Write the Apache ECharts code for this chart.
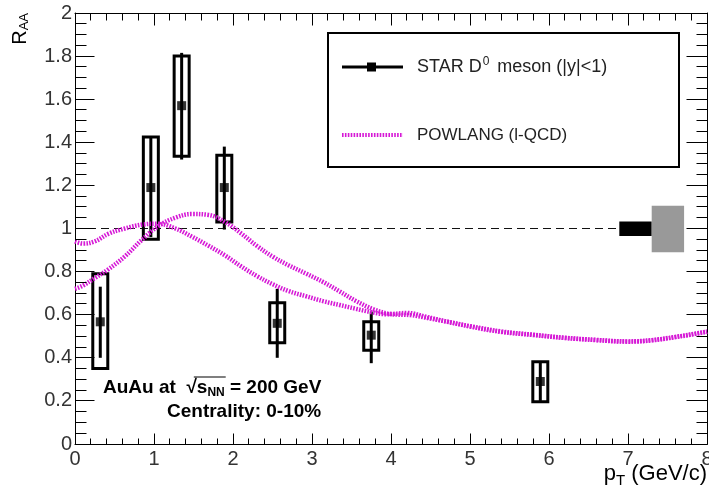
<!DOCTYPE html>
<html>
<head>
<meta charset="utf-8">
<script src="https://cdn.jsdelivr.net/npm/echarts@6/dist/echarts.min.js"></script>
<style>
  html, body { margin: 0; padding: 0; background: #fff; }
  #chart { width: 709px; height: 494px; }
</style>
</head>
<body>
<div id="chart"></div>
<script>
// STAR D0 nuclear modification factor, 0-10% central Au+Au at 200 GeV
const ptValues  = [0.32, 0.96, 1.35, 1.89, 2.56, 3.75, 5.89];
const raaValues = [0.567, 1.19, 1.57, 1.19, 0.56, 0.505, 0.29];
const statLow   = [0.40, 0.96, 1.32, 0.995, 0.40, 0.375, 0.20];
const statHigh  = [0.73, 1.42, 1.815, 1.38, 0.72, 0.615, 0.38];
const sysLow    = [0.35, 0.95, 1.335, 1.03, 0.47, 0.435, 0.196];
const sysHigh   = [0.79, 1.425, 1.80, 1.34, 0.655, 0.567, 0.382];

// POWLANG (l-QCD) transport predictions
const powlangAx = [0.0, 0.1, 0.25, 0.42, 0.63, 0.85, 1.05, 1.27, 1.48, 1.69, 1.9, 2.1, 2.3, 2.5, 2.7, 2.93, 3.15, 3.35, 3.55, 3.75, 3.95, 4.2, 4.45, 4.7, 5.0, 5.4, 5.8, 6.2, 6.6, 7.0, 7.3, 7.6, 7.85, 8.0];
const powlangAy = [0.94, 0.93, 0.94, 0.975, 1.0, 1.018, 1.022, 1.0, 0.962, 0.92, 0.875, 0.825, 0.78, 0.742, 0.71, 0.685, 0.662, 0.645, 0.628, 0.612, 0.602, 0.608, 0.59, 0.568, 0.547, 0.522, 0.507, 0.493, 0.483, 0.476, 0.482, 0.497, 0.512, 0.522];
const powlangBx = [0.0, 0.1, 0.25, 0.42, 0.63, 0.84, 1.05, 1.27, 1.48, 1.69, 1.9, 2.1, 2.3, 2.5, 2.7, 2.93, 3.15, 3.35, 3.55, 3.78, 4.0, 4.25, 4.5, 4.75, 5.0, 5.4, 5.8, 6.2, 6.6, 7.0, 7.3, 7.6, 7.85, 8.0];
const powlangBy = [0.72, 0.735, 0.77, 0.81, 0.87, 0.945, 1.01, 1.05, 1.067, 1.063, 1.03, 0.978, 0.92, 0.87, 0.83, 0.79, 0.75, 0.708, 0.665, 0.625, 0.603, 0.598, 0.582, 0.565, 0.545, 0.52, 0.506, 0.492, 0.482, 0.475, 0.481, 0.496, 0.511, 0.521];

// Normalisation uncertainties drawn around unity
const normX0   = [6.89, 7.30];
const normX1   = [7.30, 7.71];
const normLow  = [0.965, 0.89];
const normHigh = [1.032, 1.106];

// Axis ranges, tick marks and subdivisions
const xRange = [0, 8];
const yRange = [0, 2];
const xMajorTicks = [0, 1, 2, 3, 4, 5, 6, 7, 8];
const yMajorTicks = [0, 0.2, 0.4, 0.6, 0.8, 1.0, 1.2, 1.4, 1.6, 1.8, 2.0];
const xSubdivisions = 5;
const ySubdivisions = 4;

const FONT = "'Liberation Sans', Arial, Helvetica, sans-serif";
const MAGENTA = '#d61ad6';
const normColors = ['#000000', '#999999'];
// tick lengths in pixels: [major, minor] for bottom, top, left, right sides
const tickLen = { bottom: [11, 6], top: [12, 7], left: [19, 11], right: [21, 11] };
const gridBox = { left: 75, right: 2, top: 13, bottom: 50 };

const zip = (xs, ys) => xs.map((x, i) => [x, ys[i]]);
const pointRows = ptValues.map((x, i) => [x, raaValues[i], statLow[i], statHigh[i], sysLow[i], sysHigh[i]]);
const normRows = normX0.map((x, i) => [x, normX1[i], normLow[i], normHigh[i]]);

// tick rows: [value, isMinor, axisDim]
function tickRows(major, sub, dim) {
  const rows = [];
  major.forEach((v, i) => {
    rows.push([v, 0, dim]);
    if (i < major.length - 1) {
      const step = (major[i + 1] - v) / sub;
      for (let k = 1; k < sub; k++) rows.push([v + k * step, 1, dim]);
    }
  });
  return rows;
}
const allTickRows = tickRows(xMajorTicks, xSubdivisions, 0).concat(tickRows(yMajorTicks, ySubdivisions, 1));

function measure(text, font) {
  const ctx = document.createElement('canvas').getContext('2d');
  ctx.font = font;
  return ctx.measureText(text).width;
}

const chart = echarts.init(document.getElementById('chart'), null, { renderer: 'canvas' });

// frame lines stay on their own side of the grid
const axisLine = () => ({ show: true, onZero: false, lineStyle: { color: '#000', width: 1 } });
const noSplit = { splitLine: { show: false }, splitArea: { show: false }, axisTick: { show: false }, minorTick: { show: false } };

// Collision-system annotation, first line with the sqrt(s_NN) overline
const annX = 103, annY = 388;
const bFont = 'bold 19px ' + FONT;
const subFont = 'bold 12px ' + FONT;
const wPre = measure('AuAu at  \u221A', bFont);
const wS = measure('s', bFont);
const wNN = measure('NN', subFont);

const lineSeriesStyle = { color: MAGENTA, width: 4.5, type: [1.6, 1.3], cap: 'butt' };
const crisp = v => Math.round(v - 0.5) + 0.5;

const baseGraphic = [
  // y-axis title
  {
    type: 'text', x: 20, y: 13, rotation: Math.PI / 2, z: 20,
    style: {
      text: '{r|R}{s|AA}',
      textAlign: 'right', textVerticalAlign: 'middle',
      rich: {
        r: { fontSize: 20, fontFamily: FONT, fill: '#000', color: '#000' },
        s: { fontSize: 13, fontFamily: FONT, fill: '#000', color: '#000', padding: [9, 0, 0, 0] }
      }
    }
  },
  // x-axis title
  {
    type: 'text', x: 707, y: 474, z: 20,
    style: {
      text: '{p|p}{s|T}{p| (GeV/c)}',
      textAlign: 'right', textVerticalAlign: 'middle',
      rich: {
        p: { fontSize: 22, fontFamily: FONT, fill: '#000', color: '#000' },
        s: { fontSize: 15, fontFamily: FONT, fill: '#000', color: '#000', padding: [14, 0, 0, 0] }
      }
    }
  },
  // legend frame
  {
    type: 'rect', z: 20,
    shape: { x: 328, y: 33, width: 351, height: 134 },
    style: { fill: '#fff', stroke: '#000', lineWidth: 2 }
  },
  {
    type: 'line', z: 21,
    shape: { x1: 342, y1: 67, x2: 403, y2: 67 },
    style: { stroke: '#000', lineWidth: 3 }
  },
  {
    type: 'rect', z: 22,
    shape: { x: 367, y: 62.5, width: 9, height: 9 },
    style: { fill: '#000' }
  },
  {
    type: 'text', x: 417, y: 67, z: 21,
    style: {
      text: '{n|STAR D}{u|0}{n| meson (|y|<1)}',
      textAlign: 'left', textVerticalAlign: 'middle',
      rich: {
        n: { fontSize: 18, fontFamily: FONT, fill: '#222', color: '#222' },
        u: { fontSize: 12, fontFamily: FONT, fill: '#222', color: '#222', padding: [0, 3, 11, 1] }
      }
    }
  },
  {
    type: 'line', z: 21,
    shape: { x1: 342, y1: 135, x2: 403, y2: 135 },
    style: { stroke: MAGENTA, lineWidth: 4, lineDash: [1.6, 1.3] }
  },
  {
    type: 'text', x: 417, y: 135, z: 21,
    style: {
      text: 'POWLANG (l-QCD)',
      textAlign: 'left', textVerticalAlign: 'middle',
      font: '17px ' + FONT, fill: '#222'
    }
  },
  // collision system and centrality
  {
    type: 'text', x: annX, y: annY, z: 20,
    style: {
      text: '{b|AuAu at  \u221A}{b|s}{s|NN}{b| = 200 GeV}',
      textAlign: 'left', textVerticalAlign: 'middle',
      rich: {
        b: { fontSize: 19, fontWeight: 'bold', fontFamily: FONT, fill: '#000', color: '#000' },
        s: { fontSize: 12, fontWeight: 'bold', fontFamily: FONT, fill: '#000', color: '#000', padding: [10, 0, 0, 0] }
      }
    }
  },
  {
    type: 'line', z: 21,
    shape: { x1: annX + wPre - 3, y1: annY - 11, x2: annX + wPre + wS + wNN + 1, y2: annY - 11 },
    style: { stroke: '#000', lineWidth: 1.2 }
  },
  {
    type: 'text', x: 167, y: 412, z: 20,
    style: {
      text: 'Centrality: 0-10%',
      textAlign: 'left', textVerticalAlign: 'middle',
      font: 'bold 19px ' + FONT, fill: '#000'
    }
  }
];

chart.setOption({
  animation: false,
  backgroundColor: '#fff',
  grid: Object.assign({ containLabel: false, outerBoundsMode: 'none' }, gridBox),
  xAxis: [
    Object.assign({
      type: 'value', min: xRange[0], max: xRange[1], interval: 1, position: 'bottom',
      axisLine: axisLine(),
      axisLabel: { show: true, fontSize: 20, fontFamily: FONT, color: '#333', margin: 5, showMaxLabel: true }
    }, noSplit),
    Object.assign({
      type: 'value', min: xRange[0], max: xRange[1], interval: 1, position: 'top',
      axisLine: axisLine(), axisLabel: { show: false }
    }, noSplit)
  ],
  yAxis: [
    Object.assign({
      type: 'value', min: yRange[0], max: yRange[1], interval: 0.2, position: 'left',
      axisLine: axisLine(),
      axisLabel: { show: true, fontSize: 20, fontFamily: FONT, color: '#333', margin: 3 }
    }, noSplit),
    Object.assign({
      type: 'value', min: yRange[0], max: yRange[1], interval: 0.2, position: 'right',
      axisLine: axisLine(), axisLabel: { show: false }
    }, noSplit)
  ],
  series: [
    {
      name: 'unity', type: 'line', xAxisIndex: 0, yAxisIndex: 0,
      data: [[xRange[0], 1], [normX0[0], 1]],
      showSymbol: false, symbol: 'none',
      lineStyle: { color: '#111', width: 1, type: [8, 5] },
      z: 2
    },
    {
      name: 'norm', type: 'custom', xAxisIndex: 0, yAxisIndex: 0,
      data: normRows,
      renderItem: function (params, api) {
        const p0 = api.coord([api.value(0), api.value(3)]);
        const p1 = api.coord([api.value(1), api.value(2)]);
        return {
          type: 'rect',
          shape: { x: p0[0], y: p0[1], width: p1[0] - p0[0], height: p1[1] - p0[1] },
          style: { fill: normColors[params.dataIndex] }
        };
      },
      z: 3
    },
    {
      name: 'STAR errors', type: 'custom', xAxisIndex: 0, yAxisIndex: 0,
      data: pointRows,
      renderItem: function (params, api) {
        const x = api.value(0);
        const c = api.coord([x, api.value(1)]);
        const sLo = api.coord([x, api.value(2)]);
        const sHi = api.coord([x, api.value(3)]);
        const bLo = api.coord([x, api.value(4)]);
        const bHi = api.coord([x, api.value(5)]);
        return {
          type: 'group',
          children: [
            {
              type: 'rect',
              shape: { x: c[0] - 1.5, y: sHi[1], width: 3, height: sLo[1] - sHi[1] },
              style: { fill: '#000' }
            },
            {
              type: 'rect',
              shape: { x: c[0] - 7.5, y: bHi[1], width: 15, height: bLo[1] - bHi[1] },
              style: { fill: 'none', stroke: '#000', lineWidth: 3 }
            }
          ]
        };
      },
      z: 4
    },
    {
      name: 'STAR D0', type: 'scatter', xAxisIndex: 0, yAxisIndex: 0,
      data: zip(ptValues, raaValues),
      symbol: 'rect', symbolSize: 9,
      itemStyle: { color: '#000' },
      z: 5
    },
    {
      name: 'POWLANG A', type: 'line', xAxisIndex: 0, yAxisIndex: 0,
      data: zip(powlangAx, powlangAy),
      smooth: 0.4, showSymbol: false, symbol: 'none',
      lineStyle: lineSeriesStyle,
      z: 6
    },
    {
      name: 'POWLANG B', type: 'line', xAxisIndex: 0, yAxisIndex: 0,
      data: zip(powlangBx, powlangBy),
      smooth: 0.4, showSymbol: false, symbol: 'none',
      lineStyle: lineSeriesStyle,
      z: 6
    }
  ],
  graphic: baseGraphic
});

// Inward tick marks on all four sides of the frame, placed through the axes' own scales
const W = chart.getWidth(), H = chart.getHeight();
const plotRect = {
  x: gridBox.left, y: gridBox.top,
  width: W - gridBox.left - gridBox.right, height: H - gridBox.top - gridBox.bottom
};
function xPx(v) {
  let p;
  try { p = chart.convertToPixel({ xAxisIndex: 0 }, v); } catch (e) { p = undefined; }
  if (Array.isArray(p)) p = p[0];
  if (typeof p !== 'number' || !isFinite(p)) {
    p = plotRect.x + (v - xRange[0]) / (xRange[1] - xRange[0]) * plotRect.width;
  }
  return p;
}
function yPx(v) {
  let p;
  try { p = chart.convertToPixel({ yAxisIndex: 0 }, v); } catch (e) { p = undefined; }
  if (Array.isArray(p)) p = p[1];
  if (typeof p !== 'number' || !isFinite(p)) {
    p = plotRect.y + plotRect.height - (v - yRange[0]) / (yRange[1] - yRange[0]) * plotRect.height;
  }
  return p;
}

const tickGraphic = [];
const yBottom = crisp(yPx(yRange[0])), yTop = crisp(yPx(yRange[1]));
const xLeft = crisp(xPx(xRange[0])), xRight = crisp(xPx(xRange[1]));
allTickRows.forEach(([v, minorIdx, dim]) => {
  const common = { zlevel: 1, z: 30, silent: true };
  const style = { stroke: '#000', lineWidth: 1 };
  if (dim === 0) {
    const x = crisp(xPx(v));
    tickGraphic.push(Object.assign({ type: 'line', shape: { x1: x, y1: yBottom, x2: x, y2: yBottom - tickLen.bottom[minorIdx] }, style: style }, common));
    tickGraphic.push(Object.assign({ type: 'line', shape: { x1: x, y1: yTop, x2: x, y2: yTop + tickLen.top[minorIdx] }, style: Object.assign({}, style) }, common));
  } else {
    const y = crisp(yPx(v));
    tickGraphic.push(Object.assign({ type: 'line', shape: { x1: xLeft, y1: y, x2: xLeft + tickLen.left[minorIdx], y2: y }, style: style }, common));
    tickGraphic.push(Object.assign({ type: 'line', shape: { x1: xRight, y1: y, x2: xRight - tickLen.right[minorIdx], y2: y }, style: Object.assign({}, style) }, common));
  }
});
chart.setOption({ graphic: baseGraphic.concat(tickGraphic) });
</script>
</body>
</html>
